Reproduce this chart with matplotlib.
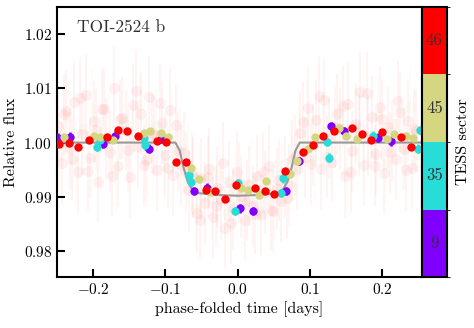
import numpy as np
import matplotlib
matplotlib.use("Agg")
import matplotlib.pyplot as plt
from matplotlib.colors import ListedColormap, BoundaryNorm
from matplotlib.cm import ScalarMappable

plt.rcParams["font.family"] = "serif"
plt.rcParams["font.serif"] = ["cmr10"]
plt.rcParams["mathtext.fontset"] = "cm"
plt.rcParams["axes.formatter.use_mathtext"] = True

sectors = [9, 35, 45, 46]
sector_colors = ["#8000ff", "#28ddd8", "#d4d680", "#ff0000"]

# unbinned points (faint haze), sector 46 (two groups) and 45
raw46_t = [-0.248, -0.243, -0.237, -0.232, -0.226, -0.221, -0.215, -0.210, -0.204, -0.199,
           -0.193, -0.188, -0.182, -0.177, -0.171, -0.166, -0.160, -0.155, -0.149, -0.144,
           -0.138, -0.133, -0.127, -0.122, -0.116, -0.111, -0.105, -0.100, -0.094, -0.089,
           -0.083, -0.078, -0.072, -0.067, -0.061, -0.056, -0.050, -0.045, -0.039, -0.034,
           -0.028, -0.023, -0.017, -0.012, -0.006, -0.001, 0.005, 0.010, 0.016, 0.021,
           0.027, 0.032, 0.038, 0.043, 0.049, 0.054, 0.060, 0.065, 0.071, 0.076,
           0.082, 0.087, 0.093, 0.098, 0.104, 0.109, 0.115, 0.120, 0.126, 0.131,
           0.137, 0.142, 0.148, 0.153, 0.159, 0.164, 0.170, 0.175, 0.181, 0.186,
           0.192, 0.197, 0.203, 0.208, 0.214, 0.219, 0.225, 0.230, 0.236, 0.241, 0.247]
raw46_f = [1.0031, 0.9962, 1.0058, 0.9989, 1.0074, 0.9945, 1.0016, 1.0087, 0.9971, 1.0039,
           0.9928, 1.0062, 1.0008, 0.9983, 1.0101, 0.9957, 1.0045, 1.0022, 0.9936, 1.0069,
           0.9991, 1.0053, 0.9968, 1.0084, 1.0012, 0.9949, 1.0036, 0.9977, 1.0060, 0.9941,
           0.9985, 0.9958, 0.9947, 0.9912, 0.9936,
           0.9871, 0.9934, 0.9889, 0.9952, 0.9862, 0.9917, 0.9895, 0.9843, 0.9928, 0.9879,
           0.9946, 0.9901, 0.9858, 0.9921, 0.9883, 0.9939, 0.9866, 0.9909, 0.9957, 0.9874, 0.9915,
           0.9892, 0.9938, 0.9921, 0.9967, 0.9952,
           1.0018, 0.9973, 1.0064, 0.9996, 1.0041, 0.9952, 1.0079, 1.0007, 0.9965, 1.0052,
           1.0026, 0.9938, 1.0071, 0.9984, 1.0035, 1.0093, 0.9959, 1.0013, 1.0047, 0.9979,
           1.0066, 0.9944, 1.0028, 1.0003, 0.9969, 1.0057, 0.9988, 1.0039, 0.9953, 1.0021]
raw46b_t = [-0.2395, -0.2285, -0.2175, -0.2065, -0.1955, -0.1845, -0.1735, -0.1625, -0.1515,
            -0.1405, -0.1295, -0.1185, -0.1075, -0.0965, -0.0855, -0.0745, -0.0635, -0.0525,
            -0.0415, -0.0305, -0.0195, -0.0085, 0.0025, 0.0135, 0.0245, 0.0355, 0.0465,
            0.0575, 0.0685, 0.0795, 0.0905, 0.1015, 0.1125, 0.1235, 0.1345, 0.1455, 0.1565,
            0.1675, 0.1785, 0.1895, 0.2005, 0.2115, 0.2225, 0.2335, 0.2445]
raw46b_f = [1.0052, 0.9969, 1.0083, 0.9947, 1.0024, 1.0061, 0.9938, 1.0043, 0.9986, 1.0095,
            0.9959, 1.0017, 1.0072, 0.9954, 1.0033, 0.9981, 0.9943,
            0.9858, 0.9937, 0.9884, 0.9962, 0.9851, 0.9926, 0.9893, 0.9869, 0.9945, 0.9876, 0.9931,
            0.9897, 0.9976,
            1.0037, 0.9961, 1.0085, 0.9974, 1.0029, 1.0068, 0.9946, 1.0014, 1.0091, 0.9957,
            1.0043, 0.9982, 1.0076, 0.9949, 1.0025]
raw45_t = [-0.245, -0.234, -0.223, -0.212, -0.201, -0.190, -0.179, -0.168, -0.157, -0.146,
           -0.135, -0.124, -0.113, -0.102, -0.091, -0.080, -0.069, -0.058, -0.047, -0.036,
           -0.025, -0.014, -0.003, 0.008, 0.019, 0.030, 0.041, 0.052, 0.063, 0.074,
           0.085, 0.096, 0.107, 0.118, 0.129, 0.140, 0.151, 0.162, 0.173, 0.184,
           0.195, 0.206, 0.217, 0.228, 0.239, 0.250]
raw45_f = [0.9978, 1.0047, 0.9963, 1.0025, 1.0061, 0.9989, 1.0012, 0.9951, 1.0038, 0.9994,
           1.0069, 0.9972, 1.0031, 0.9957, 1.0015, 0.9993, 0.9962,
           0.9878, 0.9925, 0.9896, 0.9941, 0.9869, 0.9912, 0.9887, 0.9930, 0.9872, 0.9918, 0.9899,
           0.9935, 0.9948, 0.9991,
           1.0042, 0.9968, 1.0019, 0.9985, 1.0057, 0.9947, 1.0028, 1.0003, 0.9974, 1.0049,
           0.9961, 1.0034, 0.9992, 1.0066, 0.9979]

# binned points per sector
bin46_t = [-0.247, -0.233, -0.221, -0.206, -0.180, -0.166, -0.153, -0.138, -0.1115, -0.0986,
           -0.0857, -0.0708, -0.044, -0.0306, -0.018, -0.0024, 0.0236, 0.0375, 0.0504, 0.0653,
           0.0912, 0.1046, 0.1176, 0.133, 0.1588, 0.172, 0.1847, 0.200, 0.226, 0.240]
bin46_f = [0.9998, 1.0000, 0.9991, 1.0004, 1.0010, 1.0023, 1.0021, 1.0013, 1.0002, 1.0001,
           0.9965, 0.9964, 0.9912, 0.9911, 0.9896, 0.9921, 0.9917, 0.9910, 0.9906, 0.9947,
           0.9982, 0.9996, 1.0013, 1.0021, 1.0027, 1.0016, 1.0004, 1.0020, 1.0010, 0.9992]
bin45_t = [-0.240, -0.1986, -0.190, -0.173, -0.130, -0.121, -0.1056, -0.096, -0.0643, -0.0532,
           -0.0375, 0.005, 0.0143, 0.030, 0.0393, 0.0726, 0.0819, 0.0977, 0.107, 0.1407,
           0.150, 0.165, 0.207, 0.217, 0.233, 0.2426]
bin45_f = [1.0010, 1.0012, 1.0010, 1.0004, 1.0018, 1.0021, 1.0018, 1.0010, 0.9953, 0.9932,
           0.9908, 0.9917, 0.9912, 0.9904, 0.9929, 0.9943, 0.9966, 0.9988, 1.0011, 1.0027,
           1.0012, 1.0007, 1.0006, 1.0015, 1.0012, 1.0009]
bin35_t = [-0.195, -0.190, -0.130, -0.128, -0.0676, -0.0643, -0.0037, 0.000, 0.0597, 0.0629,
           0.1236, 0.127, 0.187, 0.2496, 0.252]
bin35_f = [0.9992, 1.0004, 1.0008, 0.9995, 0.9940, 0.9928, 0.9874, 0.9925, 0.9907, 0.9934,
           1.0001, 0.9972, 1.0013, 0.9989, 1.0023]
bin9_t = [-0.248, -0.232, -0.186, -0.169, -0.123, -0.1056, -0.0607, -0.0421, 0.0037, 0.0213,
          0.0671, 0.085, 0.129, 0.1477, 0.194, 0.2125]
bin9_f = [1.0009, 1.0011, 0.9998, 1.0013, 0.9989, 1.0007, 0.9911, 0.9917, 0.9879, 0.9874,
          0.9911, 0.9966, 1.0030, 1.0021, 1.0009, 1.0002]
bin_err = {9: 0.0008, 35: 0.0008, 45: 0.0003, 46: 0.0003}

# transit model
model_t = [-0.26, -0.086, -0.080, -0.075, -0.069, -0.063, -0.055, -0.030, 0.0,
           0.030, 0.055, 0.063, 0.069, 0.075, 0.080, 0.086, 0.26]
model_f = [1.0, 1.0, 0.9985, 0.9955, 0.9928, 0.9914, 0.9907, 0.99035, 0.9902,
           0.99035, 0.9907, 0.9914, 0.9928, 0.9955, 0.9985, 1.0, 1.0]

fig = plt.figure(figsize=(4.74, 3.28), dpi=100)
ax = fig.add_axes([0.120, 0.155, 0.770, 0.824])

for t, f, c in [(raw45_t, raw45_f, sector_colors[2]),
                (raw46_t, raw46_f, sector_colors[3]),
                (raw46b_t, raw46b_f, sector_colors[3])]:
    ax.errorbar(t, f, yerr=0.0075, fmt="o", ms=8, color=c, mec="none",
                alpha=0.055, elinewidth=1.2, zorder=1)

ax.plot(model_t, model_f, color="#999999", lw=1.5, zorder=2)

binned = [(9, bin9_t, bin9_f), (35, bin35_t, bin35_f),
          (45, bin45_t, bin45_f), (46, bin46_t, bin46_f)]
for i, (s, t, f) in enumerate(binned):
    ax.errorbar(t, f, yerr=bin_err[s], fmt="o", ms=6, color=sector_colors[i],
                mec="none", elinewidth=1.8, capsize=0, zorder=3)

ax.set_xlim(-0.25, 0.255)
ax.set_ylim(0.9752, 1.025)
ax.set_xticks([-0.2, -0.1, 0.0, 0.1, 0.2])
ax.set_yticks([0.98, 0.99, 1.00, 1.01, 1.02])
ax.tick_params(direction="in", length=6, width=1.5, labelsize=11, top=False, right=False)
for sp in ax.spines.values():
    sp.set_linewidth(1.5)
ax.set_xlabel("phase-folded time [days]", fontsize=11.5, labelpad=3)
ax.set_ylabel("Relative flux", fontsize=11.5, labelpad=4)
ax.text(0.055, 0.925, "TOI-2524 b", transform=ax.transAxes, fontsize=12.5, color="#333333",
        va="center")

cax = fig.add_axes([0.890, 0.155, 0.053, 0.824])
cmap = ListedColormap(sector_colors)
norm = BoundaryNorm([0, 1, 2, 3, 4], 4)
cb = fig.colorbar(ScalarMappable(norm=norm, cmap=cmap), cax=cax)
cb.set_ticks([])
cb.outline.set_linewidth(1.5)
for i, s in enumerate(sectors):
    cax.text(0.5, i + 0.5, str(s), ha="center", va="center", fontsize=12, color="#333333")
cb.set_label("TESS sector", fontsize=11.5, labelpad=1)

fig.savefig("out.png", dpi=100)
